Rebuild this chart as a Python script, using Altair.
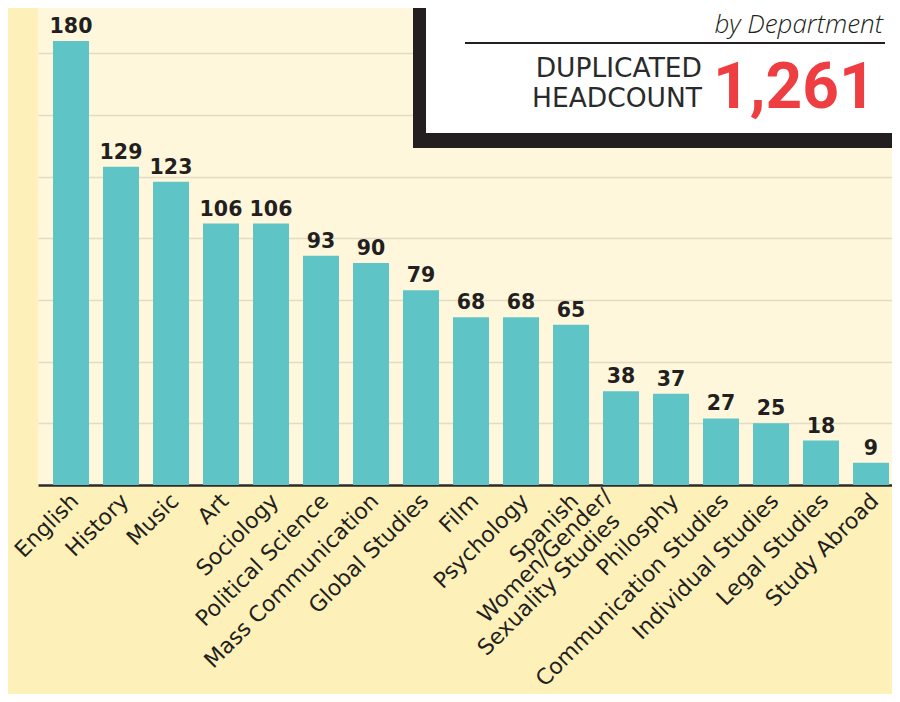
import altair as alt
import pandas as pd

# ---- data ----
departments = ["English", "History", "Music", "Art", "Sociology", "Political Science",
               "Mass Communication", "Global Studies", "Film", "Psychology", "Spanish",
               "Women/Gender/Sexuality Studies", "Philosphy",
               "Communication Studies", "Individual Studies", "Legal Studies", "Study Abroad"]
headcount = [180, 129, 123, 106, 106, 93, 90, 79, 68, 68, 65, 38, 37, 27, 25, 18, 9]
wrapped_dept = "Women/Gender/Sexuality Studies"
wrapped_lines = ["Women/Gender/", "Sexuality Studies"]
grid_values = [25, 50, 75, 100, 125, 150, 175]
subtitle = "by Department"
caption_lines = ["DUPLICATED", "HEADCOUNT"]
total_label = "1,261"

FONT = "DejaVu Sans"
DARK = "#231f20"
LABEL_SIZE = 22

df = pd.DataFrame({"dept": departments, "count": headcount})

x = alt.X(
    "dept:N", sort=departments,
    scale=alt.Scale(paddingInner=0.28, paddingOuter=0.18, align=0.833),
    axis=alt.Axis(title=None, labelAngle=315, labelAlign="right", labelBaseline="middle",
                  labelFont=FONT, labelFontSize=LABEL_SIZE, labelColor=DARK,
                  labelPadding=12, labelOffset=4,
                  labelLimit=400, labelOverlap=False,
                  labelExpr=f"datum.label == '{wrapped_dept}' ? '' : datum.label",
                  ticks=False, domainColor="#2b2b2b", domainWidth=2.5, grid=False),
)
y = alt.Y(
    "count:Q",
    scale=alt.Scale(domain=[0, 193.4], nice=False, zero=True),
    axis=alt.Axis(title=None, labels=False, ticks=False, domain=False, grid=True,
                  values=grid_values, gridColor="#e4dcc2", gridWidth=1.5),
)

base = alt.Chart(df).encode(x=x, y=y)
bars = base.mark_bar(color="#5ec4c5")
values = base.mark_text(dy=-8, baseline="alphabetic", font=FONT, fontWeight="bold",
                        fontSize=20.5, color=DARK).encode(text="count:Q")

# two-line category label, drawn at its band position
wrap_base = alt.Chart(df).transform_filter(alt.datum.dept == wrapped_dept)
wrap1 = wrap_base.mark_text(text=wrapped_lines[0], angle=315, align="right", baseline="middle",
                            font=FONT, fontSize=LABEL_SIZE, color=DARK, dx=-6, dy=-12).encode(
    x=x, y=alt.value(489))
wrap2 = wrap_base.mark_text(text=wrapped_lines[1], angle=315, align="right", baseline="middle",
                            font=FONT, fontSize=LABEL_SIZE, color=DARK, dx=-18, dy=11).encode(
    x=x, y=alt.value(489))

one = pd.DataFrame({"k": [0]})
ann = alt.Chart(one)
box_outer = ann.mark_rect(color=DARK).encode(
    x=alt.value(375), x2=alt.value(900), y=alt.value(-20), y2=alt.value(140))
box_inner = ann.mark_rect(color="#ffffff").encode(
    x=alt.value(388), x2=alt.value(900), y=alt.value(-20), y2=alt.value(125))
sub = ann.mark_text(text=subtitle, align="right", baseline="alphabetic", font="Open Sans",
                    fontStyle="italic", fontWeight=300, fontSize=26, color=DARK).encode(
    x=alt.value(845), y=alt.value(25))
rule = ann.mark_rule(color=DARK, strokeWidth=2).encode(
    x=alt.value(427), x2=alt.value(847), y=alt.value(35))
cap1 = ann.mark_text(text=caption_lines[0], align="right", baseline="alphabetic", font=FONT,
                     fontSize=26.5, color="#2a2a2a").encode(
    x=alt.value(664), y=alt.value(69))
cap2 = ann.mark_text(text=caption_lines[1], align="right", baseline="alphabetic", font=FONT,
                     fontSize=26.5, color="#2a2a2a").encode(
    x=alt.value(664), y=alt.value(99))
total = ann.mark_text(text=total_label, align="left", baseline="alphabetic", font="Roboto",
                      fontWeight="bold", fontSize=64, color="#ef3e42").encode(
    x=alt.value(675), y=alt.value(100))

chart = alt.layer(bars, values, wrap1, wrap2, box_outer, box_inner, sub, rule,
                  cap1, cap2, total).properties(
    width=854, height=477,
    padding={"left": 30, "top": 0, "right": 0, "bottom": 209},
    autosize=alt.AutoSizeParams(type="none"),
    background="#fdf0b9",
).configure_view(fill="#fef7dc", stroke=None)

chart.save("out.html", embed_options={"renderer": "svg", "actions": False})
